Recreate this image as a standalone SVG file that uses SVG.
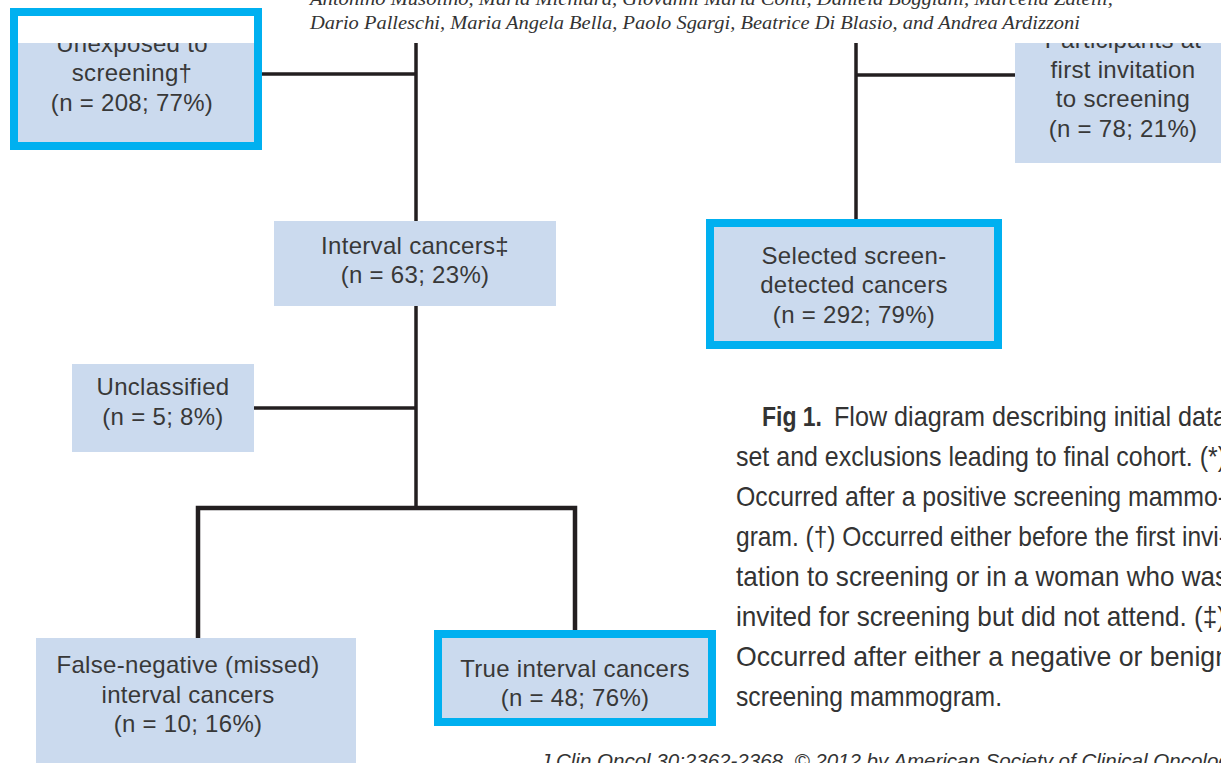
<svg xmlns="http://www.w3.org/2000/svg" width="1221" height="763" viewBox="0 0 1221 763">
<style>
.box{fill:#cbdaee;stroke:none}
.hl{fill:#cbdaee;stroke:#00b0f0;stroke-width:8}
.t{font-family:"Liberation Sans",Arial,sans-serif;font-size:24px;fill:#383838;text-anchor:middle;letter-spacing:0.3px}
.c{stroke:#231f20;stroke-width:3.5;fill:none}
.cap{font-family:"Liberation Sans",Arial,sans-serif;font-size:28px;fill:#333}
.auth{font-family:"Liberation Serif","Times New Roman",serif;font-style:italic;font-size:19px;fill:#333}
</style>
<defs>
<clipPath id="clipR"><rect x="1015" y="43" width="206" height="120"/></clipPath>
</defs>
<rect width="1221" height="763" fill="#fff"/>
<text class="auth" x="310" y="5" textLength="803" lengthAdjust="spacingAndGlyphs">Antonino Musolino, Maria Michiara, Giovanni Maria Conti, Daniela Boggiani, Marcella Zatelli,</text>
<text class="auth" x="310" y="29" textLength="770" lengthAdjust="spacingAndGlyphs">Dario Palleschi, Maria Angela Bella, Paolo Sgargi, Beatrice Di Blasio, and Andrea Ardizzoni</text>
<g id="connectors">
<line class="c" x1="262" y1="74" x2="416" y2="74"/>
<line class="c" x1="416" y1="43" x2="416" y2="221"/>
<line class="c" x1="416" y1="306" x2="416" y2="508"/>
<line class="c" x1="254" y1="408" x2="416" y2="408"/>
<polyline class="c" points="198,638 198,508 575,508 575,630" style="stroke-width:4.5"/>
<line class="c" x1="856" y1="43" x2="856" y2="221"/>
<line class="c" x1="856" y1="75" x2="1015" y2="75"/>
</g>
<g id="unexposed">
<rect class="box" x="18" y="43" width="236" height="99"/>
<text class="t" x="132" y="52">Unexposed to</text>
<rect x="18" y="16" width="236" height="27" fill="#fff"/>
<text class="t" x="132" y="81">screening†</text>
<text class="t" x="132" y="111">(n = 208; 77%)</text>
<rect x="14" y="12" width="244" height="134" fill="none" stroke="#00b0f0" stroke-width="8"/>
</g>
<g id="participants">
<rect class="box" x="1015" y="43" width="210" height="120"/>
<g clip-path="url(#clipR)">
<text class="t" x="1123" y="48">Participants at</text>
</g>
<text class="t" x="1123" y="78">first invitation</text>
<text class="t" x="1123" y="107">to screening</text>
<text class="t" x="1123" y="137">(n = 78; 21%)</text>
</g>
<g id="interval">
<rect class="box" x="274" y="221" width="282" height="85"/>
<text class="t" x="415" y="254">Interval cancers‡</text>
<text class="t" x="415" y="283">(n = 63; 23%)</text>
</g>
<g id="selected">
<rect class="hl" x="710" y="223" width="288" height="122"/>
<text class="t" x="854" y="264">Selected screen-</text>
<text class="t" x="854" y="293">detected cancers</text>
<text class="t" x="854" y="323">(n = 292; 79%)</text>
</g>
<g id="unclassified">
<rect class="box" x="72" y="364" width="182" height="88"/>
<text class="t" x="163" y="395">Unclassified</text>
<text class="t" x="163" y="425">(n = 5; 8%)</text>
</g>
<g id="falseneg">
<rect class="box" x="36" y="638" width="320" height="130"/>
<text class="t" x="188" y="673">False-negative (missed)</text>
<text class="t" x="188" y="703">interval cancers</text>
<text class="t" x="188" y="732">(n = 10; 16%)</text>
</g>
<g id="trueinterval">
<rect class="hl" x="438" y="634" width="274" height="88"/>
<text class="t" x="575" y="677">True interval cancers</text>
<text class="t" x="575" y="706">(n = 48; 76%)</text>
</g>
<g id="caption">
<text class="cap" x="762" y="426" font-weight="bold" textLength="60" lengthAdjust="spacingAndGlyphs">Fig 1.</text>
<text class="cap" x="834" y="426" textLength="393" lengthAdjust="spacingAndGlyphs">Flow diagram describing initial data</text>
<text class="cap" x="736" y="466" textLength="490" lengthAdjust="spacingAndGlyphs">set and exclusions leading to final cohort. (*)</text>
<text class="cap" x="736" y="506" textLength="490" lengthAdjust="spacingAndGlyphs">Occurred after a positive screening mammo-</text>
<text class="cap" x="736" y="546" textLength="491" lengthAdjust="spacingAndGlyphs">gram. (†) Occurred either before the first invi-</text>
<text class="cap" x="736" y="586" textLength="492" lengthAdjust="spacingAndGlyphs">tation to screening or in a woman who was</text>
<text class="cap" x="736" y="626" textLength="490" lengthAdjust="spacingAndGlyphs">invited for screening but did not attend. (‡)</text>
<text class="cap" x="736" y="666" textLength="494" lengthAdjust="spacingAndGlyphs">Occurred after either a negative or benign</text>
<text class="cap" x="736" y="706" textLength="266" lengthAdjust="spacingAndGlyphs">screening mammogram.</text>
</g>
<text x="540" y="768" font-family="Liberation Sans,Arial,sans-serif" font-style="italic" font-size="21" fill="#333" textLength="700" lengthAdjust="spacingAndGlyphs">J Clin Oncol 30:2362-2368. © 2012 by American Society of Clinical Oncology</text>
</svg>
